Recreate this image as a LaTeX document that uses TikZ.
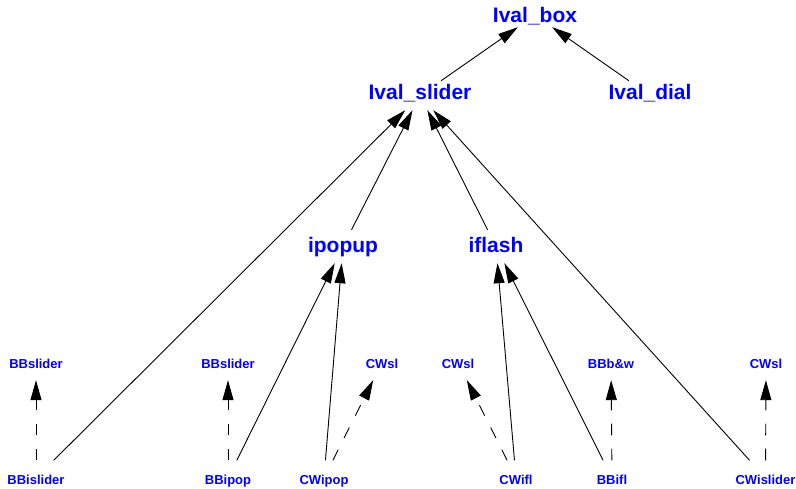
\documentclass[tikz,border=0pt]{standalone}
\usepackage{fontspec}
\setmainfont{Liberation Sans}
\usetikzlibrary{arrows.meta}
\begin{document}
\begin{tikzpicture}[x=1pt,y=-1pt,
  big/.style={font=\fontsize{21}{25}\selectfont\bfseries, text=blue, inner sep=0pt, text height=19pt, text depth=10pt, anchor=base},
  mid/.style={big, text height=23pt},
  small/.style={font=\fontsize{13}{15}\selectfont\bfseries, text=blue, inner sep=0pt, text height=24pt, text depth=11pt, anchor=base},
  arr/.style={-{Triangle[length=20pt,width=11pt]}, line width=0.9pt, black},
  darr/.style={arr, dash pattern=on 11.7pt off 13.3pt}]
\path[use as bounding box] (0,0) rectangle (796,489);
% top level
\node[big, text depth=4.5pt] (box) at (535,22.5) {Ival\_box};
\node[big] (slider) at (420,100) {Ival\_slider};
\node[big] (dial) at (650,100) {Ival\_dial};
\node[mid] (ipopup) at (343,253) {ipopup};
\node[mid] (iflash) at (496,253) {iflash};
% upper small row
\node[small] (bbs1) at (36,369) {BBslider};
\node[small] (bbs2) at (228,369) {BBslider};
\node[small] (cws1) at (382,369) {CWsl};
\node[small] (cws2) at (458,369) {CWsl};
\node[small] (bbbw) at (611,369) {BBb\&w};
\node[small] (cws3) at (766,369) {CWsl};
% bottom row
\node[small] (bbislider) at (36,484.5) {BBislider};
\node[small] (bbipop) at (228,484.5) {BBipop};
\node[small] (cwipop) at (324,484.5) {CWipop};
\node[small] (cwifl) at (516,484.5) {CWifl};
\node[small] (bbifl) at (612,484.5) {BBifl};
\node[small] (cwislider) at (765.5,484.5) {CWislider};
% solid edges
\draw[arr] (slider) -- (box);
\draw[arr] (dial) -- (box);
\draw[arr] (bbislider) -- (slider);
\draw[arr] (ipopup) -- (slider);
\draw[arr] (iflash) -- (slider);
\draw[arr] (cwislider) -- (slider);
\draw[arr] (bbipop) -- (ipopup);
\draw[arr] (cwipop) -- (ipopup);
\draw[arr] (cwifl) -- (iflash);
\draw[arr] (bbifl) -- (iflash);
% dashed edges
\draw[darr] (bbislider) -- (bbs1);
\draw[darr] (bbipop) -- (bbs2);
\draw[darr] (cwipop) -- (cws1);
\draw[darr] (cwifl) -- (cws2);
\draw[darr] (bbifl) -- (bbbw);
\draw[darr] (cwislider) -- (cws3);
\end{tikzpicture}
\end{document}
